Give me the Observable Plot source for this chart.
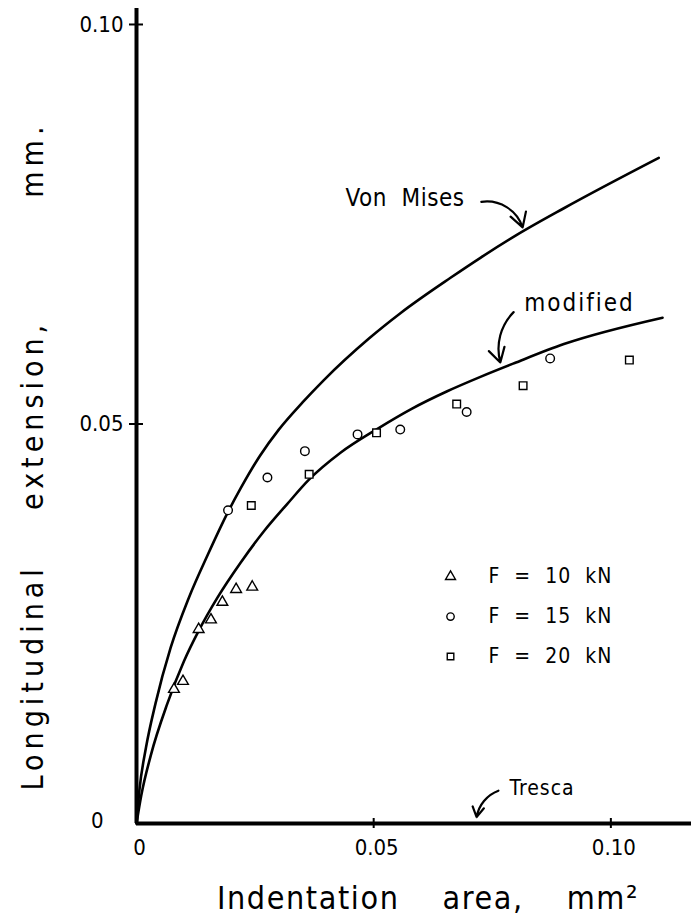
<!DOCTYPE html>
<html><head><meta charset="utf-8">
<script src="https://cdn.jsdelivr.net/npm/d3@7"></script>
<script src="https://cdn.jsdelivr.net/npm/@observablehq/plot@0.6"></script>
<style>
body{margin:0;background:#fff;}
svg text{font-family:"DejaVu Sans Condensed","DejaVu Sans",sans-serif;}
</style></head><body><div id="chart"></div>
<script>
// Axis ticks
const xTicks = [0, 0.05, 0.10];
const xTickLabels = ["0", "0.05", "0.10"];
const yTicks = [0, 0.05, 0.10];
const yTickLabels = ["0", "0.05", "0.10"];

// Theoretical curves
const vonMisesX = [0, 0.0006, 0.0020, 0.0040, 0.0072, 0.0110, 0.0150, 0.0193, 0.0220, 0.0260, 0.0300, 0.0350, 0.0395, 0.0490, 0.0557, 0.0662, 0.0725, 0.0800, 0.0901, 0.1101];
const vonMisesY = [0, 0.0041, 0.0095, 0.0150, 0.0220, 0.0282, 0.0336, 0.0390, 0.0420, 0.0460, 0.0493, 0.0527, 0.0555, 0.0607, 0.0639, 0.0683, 0.0708, 0.0736, 0.0770, 0.0833];
const modifiedX = [0, 0.0010, 0.0030, 0.0065, 0.0100, 0.0131, 0.0170, 0.0219, 0.0269, 0.0318, 0.0363, 0.0430, 0.0508, 0.0580, 0.0655, 0.0725, 0.0796, 0.0901, 0.1109];
const modifiedY = [0, 0.0035, 0.0085, 0.0150, 0.0203, 0.0241, 0.0282, 0.0326, 0.0366, 0.0400, 0.0430, 0.0464, 0.0494, 0.0519, 0.0541, 0.0559, 0.0576, 0.0600, 0.0633];
const trescaX = [0, 0.117];
const trescaY = [0, 0];

// Measurements
const f10X = [0.0079, 0.0098, 0.0131, 0.0157, 0.0181, 0.0210, 0.0244];
const f10Y = [0.0168, 0.0178, 0.0243, 0.0255, 0.0277, 0.0293, 0.0296];
const f15X = [0.0193, 0.0276, 0.0355, 0.0466, 0.0556, 0.0696, 0.0872];
const f15Y = [0.0392, 0.0433, 0.0466, 0.0487, 0.0493, 0.0515, 0.0582];
const f20X = [0.0242, 0.0364, 0.0506, 0.0675, 0.0815, 0.1039];
const f20Y = [0.0398, 0.0437, 0.0489, 0.0525, 0.0548, 0.0580];

// Legend
const NB = "\u00a0";
const legendLabels = ["10", "15", "20"].map(v => `F${NB}${NB}=${NB}${NB}${v}${NB}${NB}kN`);
const legendSymbols = ["triangle", "circle", "square"];
const legendY = [0.0309, 0.0259, 0.0209];
const legendSymX = 0.0662;
const legendTextX = 0.0742;

// Annotations
const annLabels = ["Von" + NB + NB + "Mises", "modified", "Tresca"];
const annX = [0.0566, 0.0934, 0.0855];
const annY = [0.0783, 0.0651, 0.0044];
const annSize = [24, 24, 21];
const annSpacing = ["0.5px", "2px", "1px"];
const arrowX1 = [0.0727, 0.0795, 0.0763];
const arrowY1 = [0.0778, 0.0640, 0.0041];
const arrowX2 = [0.0814, 0.0767, 0.0717];
const arrowY2 = [0.0746, 0.0577, 0.0008];
const arrowBend = [40, -30, -30];

const xTitle = ["Indentation", "area,", "mm\u00b2"].join(NB.repeat(4));
const yTitle = "Longitudinal" + NB.repeat(4) + "extension," + NB.repeat(9) + "mm.";

const zip = (xs, ys) => xs.map((x, i) => ({x, y: ys[i]}));
const vm = zip(vonMisesX, vonMisesY);
const md = zip(modifiedX, modifiedY);
const tr = zip(trescaX, trescaY);
const legend = legendLabels.map((t, i) => ({t, y: legendY[i]}));
const ann = annLabels.map((t, i) => ({t, x: annX[i], y: annY[i]}));
const arrows = arrowX1.map((x1, i) => ({x1, y1: arrowY1[i], x2: arrowX2[i], y2: arrowY2[i]}));

const marker = {stroke: "black", fill: "white", strokeWidth: 1.4};

const chart = Plot.plot({
  width: 691, height: 922,
  marginLeft: 136, marginRight: 0, marginTop: 8, marginBottom: 99,
  x: {domain: [0, 0.117]},
  y: {domain: [0, 0.102]},
  style: {background: "white", color: "black", fontSize: "22px", fontFamily: "'DejaVu Sans Condensed','DejaVu Sans',sans-serif"},
  marks: [
    Plot.line(tr, {x: "x", y: "y", strokeWidth: 2}),
    Plot.ruleY([0], {strokeWidth: 4}),
    Plot.ruleX([0], {strokeWidth: 4}),
    Plot.ruleX(xTicks.slice(1), {y1: 0, y2: 0, insetTop: -5, insetBottom: -5, strokeWidth: 2}),
    Plot.ruleY(yTicks.slice(1), {x1: 0, x2: 0, insetLeft: -7, insetRight: -7, strokeWidth: 2}),
    Plot.axisX(xTicks, {tickSize: 0, tickPadding: 16, dx: 3, label: null, fontSize: 22,
      tickFormat: d => xTickLabels[xTicks.indexOf(d)]}),
    Plot.axisY(yTicks.slice(1), {tickSize: 0, tickPadding: 13, label: null, fontSize: 22,
      tickFormat: d => yTickLabels[yTicks.indexOf(d)]}),
    Plot.axisY(yTicks.slice(0, 1), {tickSize: 0, tickPadding: 33, dy: -3, label: null, fontSize: 22,
      tickFormat: d => yTickLabels[yTicks.indexOf(d)]}),
    Plot.line(vm, {x: "x", y: "y", curve: "monotone-x", strokeWidth: 2.6}),
    Plot.line(md, {x: "x", y: "y", curve: "monotone-x", strokeWidth: 2.6}),
    Plot.dot(zip(f10X, f10Y), {x: "x", y: "y", symbol: "triangle", r: 4, ...marker}),
    Plot.dot(zip(f15X, f15Y), {x: "x", y: "y", symbol: "circle", r: 4.3, ...marker}),
    Plot.dot(zip(f20X, f20Y), {x: "x", y: "y", symbol: "square", r: 4.3, ...marker}),
    ...legendSymbols.map((s, i) => Plot.dot([legend[i]], {x: legendSymX, y: "y", symbol: s, r: 3.7, ...marker})),
    Plot.text(legend, {x: legendTextX, y: "y", text: "t", textAnchor: "start", fontSize: 21, ariaDescription: "sp-1"}),
    ...ann.map((a, i) => Plot.text([a], {x: "x", y: "y", text: "t", fontSize: annSize[i], ariaDescription: "sp-ann" + i})),
    ...arrows.map((a, i) => Plot.arrow([a], {x1: "x1", y1: "y1", x2: "x2", y2: "y2", bend: arrowBend[i], strokeWidth: 2.2, headLength: 11})),
    Plot.text([yTitle], {text: d => d, frameAnchor: "left", textAnchor: "middle", lineAnchor: "middle", rotate: -90, dx: -103, dy: 40, fontSize: 30, ariaDescription: "sp-ytitle"}),
    Plot.text([xTitle], {text: d => d, frameAnchor: "bottom", textAnchor: "middle", lineAnchor: "middle", dx: 14, dy: 75, fontSize: 32, ariaDescription: "sp-xtitle"})
  ]
});

// letter spacing (style only)
const spacing = {"sp-1": "1px", "sp-ann0": annSpacing[0], "sp-ann1": annSpacing[1], "sp-ann2": annSpacing[2], "sp-ytitle": "5px", "sp-xtitle": "1.6px"};
for (const [k, v] of Object.entries(spacing)) {
  d3.select(chart).selectAll(`g[aria-description="${k}"] text`).style("letter-spacing", v);
}
document.getElementById("chart").append(chart);
</script></body></html>
